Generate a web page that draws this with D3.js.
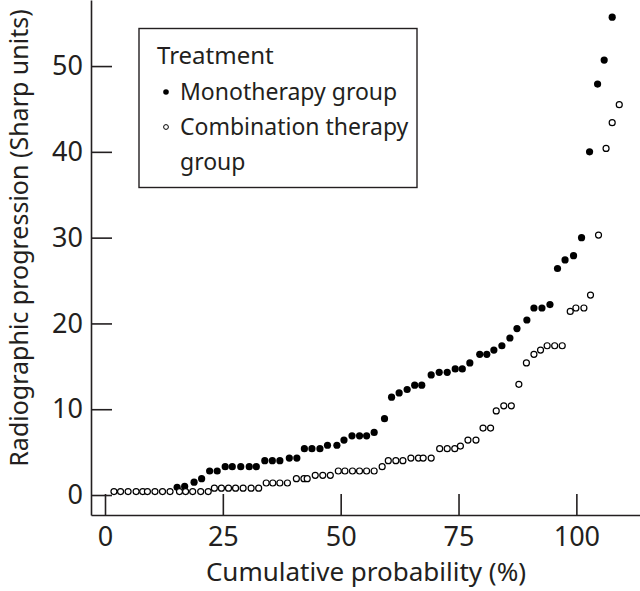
<!DOCTYPE html>
<html>
<head>
<meta charset="utf-8">
<script src="https://cdn.jsdelivr.net/npm/d3@7"></script>
<style>
  body { margin: 0; background: #fff; }
  svg { display: block; font-family: "Noto Sans", sans-serif; }
</style>
</head>
<body>
<svg id="root"></svg>
<script>
// Monotherapy group (filled dots): cumulative probability (%), progression (Sharp units)
const monoX = [15.3, 16.9, 18.9, 20.5, 22.2, 23.8, 25.5, 27.0, 28.8, 30.6, 32.1, 33.9, 35.5, 37.1,
  39.1, 40.7, 42.3, 43.9, 45.6, 47.2, 49.2, 50.7, 52.4, 54.0, 55.5, 57.1, 59.3, 60.8, 62.4, 64.1,
  65.7, 67.2, 69.2, 70.9, 72.6, 74.3, 75.8, 77.4, 79.5, 81.0, 82.5, 84.2, 85.9, 87.4, 89.5, 91.0,
  92.7, 94.4, 96.0, 97.6, 99.4, 101.1, 102.8, 104.5, 105.9, 107.6];
const monoY = [0.9, 1.0, 1.5, 1.9, 2.8, 2.8, 3.3, 3.3, 3.3, 3.3, 3.3, 4.0, 4.0, 4.0,
  4.3, 4.3, 5.4, 5.4, 5.4, 5.8, 5.8, 6.4, 6.9, 6.9, 6.9, 7.3, 8.9, 11.4, 11.9, 12.3,
  12.8, 12.8, 14.0, 14.3, 14.3, 14.7, 14.7, 15.4, 16.4, 16.4, 16.9, 17.4, 18.3, 19.4, 20.4, 21.8,
  21.8, 22.2, 26.4, 27.4, 27.9, 30.0, 40.0, 47.9, 50.7, 55.7];

// Combination therapy group (open circles)
const comboX = [1.9, 3.3, 4.9, 6.6, 8.0, 9.0, 10.6, 12.2, 13.8, 15.8, 17.1, 18.6, 20.3, 21.9,
  23.2, 24.7, 26.2, 27.7, 29.3, 31.0, 32.6, 34.2, 35.6, 37.1, 38.7, 40.6, 42.2, 42.9, 44.6, 46.2,
  47.8, 49.5, 50.9, 52.5, 54.0, 55.5, 57.1, 58.8, 60.1, 61.7, 63.2, 64.9, 66.5, 67.5, 69.2, 71.0,
  72.6, 74.2, 75.4, 77.0, 78.7, 80.2, 81.8, 83.0, 84.6, 86.2, 87.8, 89.4, 91.0, 92.4, 93.8, 95.4,
  97.0, 98.7, 99.9, 101.6, 103.0, 104.7, 106.3, 107.6, 109.1];
const comboY = [0.4, 0.4, 0.4, 0.4, 0.4, 0.4, 0.4, 0.4, 0.4, 0.4, 0.4, 0.4, 0.4, 0.4,
  0.8, 0.8, 0.8, 0.8, 0.8, 0.8, 0.8, 1.4, 1.4, 1.4, 1.4, 1.9, 1.9, 1.9, 2.3, 2.3,
  2.3, 2.8, 2.8, 2.8, 2.8, 2.8, 2.8, 3.3, 4.0, 4.0, 4.0, 4.3, 4.3, 4.3, 4.3, 5.4,
  5.4, 5.4, 5.7, 6.4, 6.4, 7.8, 7.8, 9.8, 10.4, 10.4, 12.9, 15.4, 16.4, 16.9, 17.4, 17.4,
  17.4, 21.4, 21.8, 21.8, 23.3, 30.3, 40.4, 43.4, 45.5];

const xTicks = [0, 25, 50, 75, 100];
const yTicks = [0, 10, 20, 30, 40, 50];
const legendTitle = "Treatment";
const legendItems = ["Monotherapy group", "Combination therapy", "group"];

const width = 640, height = 591;
const ink = "#231f20";

const svg = d3.select("#root").attr("width", width).attr("height", height);

var xScale = d3.scaleLinear([-2.97, 113.5], [91, 640]);
var yScale = d3.scaleLinear([-2.33, 57.7], [515, 0]);

// Axes, ticks pointing inward
var xAxis = d3.axisBottom(xScale).tickValues(xTicks).tickSizeInner(-21).tickSizeOuter(0).tickPadding(12);
var yAxis = d3.axisLeft(yScale).tickValues(yTicks).tickSizeInner(-21).tickSizeOuter(0).tickPadding(8);

const gx = svg.append("g").attr("transform", "translate(0,515)").call(xAxis);
const gy = svg.append("g").attr("transform", "translate(91,0)").call(yAxis);
[gx, gy].forEach(g => {
  g.selectAll("path, line").attr("stroke", ink).attr("stroke-width", 1.6);
  g.selectAll("text").attr("fill", ink).style("font-size", "27px").style("font-family", "\"Noto Sans\", sans-serif");
});

// Axes labels
svg.append("text")
  .attr("text-anchor", "middle")
  .attr("x", 366)
  .attr("y", 581)
  .attr("fill", ink)
  .style("font-size", "26px")
  .text("Cumulative probability (%)");

svg.append("text")
  .attr("text-anchor", "middle")
  .attr("transform", "translate(28,238) rotate(-90)")
  .attr("fill", ink)
  .style("font-size", "25px")
  .text("Radiographic progression (Sharp units)");

// Points
svg.append("g").selectAll("circle")
  .data(monoX.map((x, i) => [x, monoY[i]]))
  .join("circle")
  .attr("cx", d => xScale(d[0]))
  .attr("cy", d => yScale(d[1]))
  .attr("r", 3.6)
  .attr("fill", "#000");

svg.append("g").selectAll("circle")
  .data(comboX.map((x, i) => [x, comboY[i]]))
  .join("circle")
  .attr("cx", d => xScale(d[0]))
  .attr("cy", d => yScale(d[1]))
  .attr("r", 3)
  .attr("fill", "#fff")
  .attr("stroke", "#000")
  .attr("stroke-width", 1.2);

// Legend
const legend = svg.append("g");
legend.append("rect")
  .attr("x", 139).attr("y", 28.5)
  .attr("width", 278).attr("height", 159)
  .attr("fill", "#fff")
  .attr("stroke", ink)
  .attr("stroke-width", 1.4);

legend.append("text")
  .attr("x", 157).attr("y", 64)
  .attr("fill", ink).style("font-size", "24px")
  .text(legendTitle);

legendItems.forEach((t, i) => {
  legend.append("text")
    .attr("x", 180).attr("y", 100 + i * 35)
    .attr("fill", ink).style("font-size", "23px")
    .text(t);
});
legend.append("circle").attr("cx", 166).attr("cy", 92).attr("r", 2.8).attr("fill", "#000");
legend.append("circle").attr("cx", 166).attr("cy", 127).attr("r", 2.4)
  .attr("fill", "none").attr("stroke", "#000").attr("stroke-width", 1);
</script>
</body>
</html>
